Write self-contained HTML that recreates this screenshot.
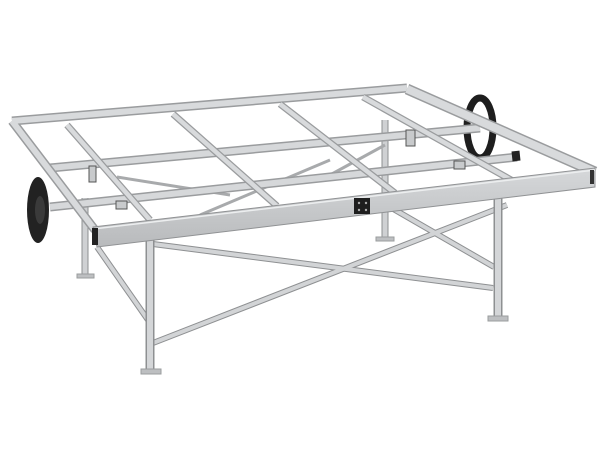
<!DOCTYPE html>
<html><head><style>html,body{margin:0;padding:0;background:#fff}svg{display:block}</style></head>
<body>
<svg width="600" height="450" viewBox="0 0 600 450" xmlns="http://www.w3.org/2000/svg">
<defs>
<linearGradient id="rail" x1="0" y1="0" x2="0" y2="1"><stop offset="0" stop-color="#d6d8da"/><stop offset="1" stop-color="#b8babc"/></linearGradient>
</defs>
<g stroke-linecap="butt" fill="none">
<g stroke="#8e9092" stroke-width="7"><line x1="85" y1="198" x2="85" y2="275"/><line x1="385" y1="120" x2="385" y2="238"/></g>
<g stroke="#cfd1d3" stroke-width="5"><line x1="85" y1="198" x2="85" y2="275"/><line x1="385" y1="120" x2="385" y2="238"/></g>
<g stroke="#a8aaac" stroke-width="3"><line x1="117" y1="177" x2="230" y2="195"/><line x1="200" y1="215" x2="330" y2="160"/><line x1="330" y1="175" x2="385" y2="145"/></g>
<g fill="#bdbfc1" stroke="#9a9c9e" stroke-width="1"><rect x="77" y="274" width="17" height="4"/><rect x="376" y="237" width="18" height="4"/></g>
<g stroke="#8e9092" stroke-width="6"><line x1="153" y1="244" x2="493" y2="288"/><line x1="153" y1="343" x2="507" y2="205"/><line x1="97" y1="247" x2="148" y2="320"/><line x1="383" y1="203" x2="494" y2="267"/></g>
<g stroke="#d2d4d6" stroke-width="4"><line x1="153" y1="244" x2="493" y2="288"/><line x1="153" y1="343" x2="507" y2="205"/><line x1="97" y1="247" x2="148" y2="320"/><line x1="383" y1="203" x2="494" y2="267"/></g>
<g stroke="#8e9092" stroke-width="9"><line x1="150" y1="240" x2="150" y2="370"/><line x1="498" y1="195" x2="498" y2="318"/></g>
<g stroke="#d4d6d8" stroke-width="6"><line x1="150" y1="240" x2="150" y2="370"/><line x1="498" y1="195" x2="498" y2="318"/></g>
<g fill="#bdbfc1" stroke="#9a9c9e" stroke-width="1"><rect x="141" y="369" width="20" height="5"/><rect x="488" y="316" width="20" height="5"/></g>
<ellipse cx="38" cy="210" rx="11" ry="33" fill="#222"/>
<ellipse cx="40" cy="210" rx="5" ry="14" fill="#3a3a3a"/>
<ellipse cx="480" cy="128" rx="13" ry="30" fill="none" stroke="#1e1e1e" stroke-width="7"/>
<g stroke="#9a9c9e" stroke-width="9"><line x1="50" y1="168" x2="480" y2="128"/><line x1="50" y1="207" x2="517" y2="157"/></g>
<g stroke="#d6d8da" stroke-width="6"><line x1="50" y1="168" x2="480" y2="128"/><line x1="50" y1="207" x2="517" y2="157"/></g>
<rect x="512" y="151" width="8" height="10" fill="#222" transform="rotate(-6 516 156)"/>
<g fill="#c8cacc" stroke="#555" stroke-width="1"><rect x="89" y="166" width="7" height="16"/><rect x="116" y="201" width="11" height="8"/><rect x="406" y="130" width="9" height="16"/><rect x="454" y="161" width="11" height="8"/></g>
<g stroke="#9a9c9e" stroke-width="9"><line x1="12" y1="121" x2="407" y2="88"/><line x1="12" y1="121" x2="95" y2="230"/></g>
<g stroke="#d8dadc" stroke-width="6"><line x1="12" y1="121" x2="407" y2="88"/><line x1="12" y1="121" x2="95" y2="230"/></g>
<g stroke="#9a9c9e" stroke-width="11"><line x1="407" y1="89" x2="595" y2="172"/></g>
<g stroke="#d8dadc" stroke-width="8"><line x1="407" y1="89" x2="595" y2="172"/></g>
<g stroke="#9a9c9e" stroke-width="7"><line x1="67" y1="125" x2="150" y2="220"/><line x1="173" y1="114" x2="277" y2="206"/><line x1="280" y1="104" x2="395" y2="193"/><line x1="363" y1="97" x2="513" y2="181"/></g>
<g stroke="#d8dadc" stroke-width="4.5"><line x1="67" y1="125" x2="150" y2="220"/><line x1="173" y1="114" x2="277" y2="206"/><line x1="280" y1="104" x2="395" y2="193"/><line x1="363" y1="97" x2="513" y2="181"/></g>
<polygon points="93,227 595,168 595,187 97,247" fill="url(#rail)" stroke="#909294" stroke-width="1"/>
<line x1="93" y1="229" x2="595" y2="170" stroke="#eceeef" stroke-width="1.5"/>
<rect x="92" y="228" width="6" height="17" fill="#222"/>
<rect x="354" y="198" width="16" height="16" fill="#1e1e1e"/>
<g fill="#aaa"><circle cx="359" cy="203" r="1.2"/><circle cx="366" cy="203" r="1.2"/><circle cx="359" cy="210" r="1.2"/><circle cx="366" cy="210" r="1.2"/></g>
<rect x="590" y="170" width="4" height="14" fill="#333"/>
</g>
</svg>
</body></html>
